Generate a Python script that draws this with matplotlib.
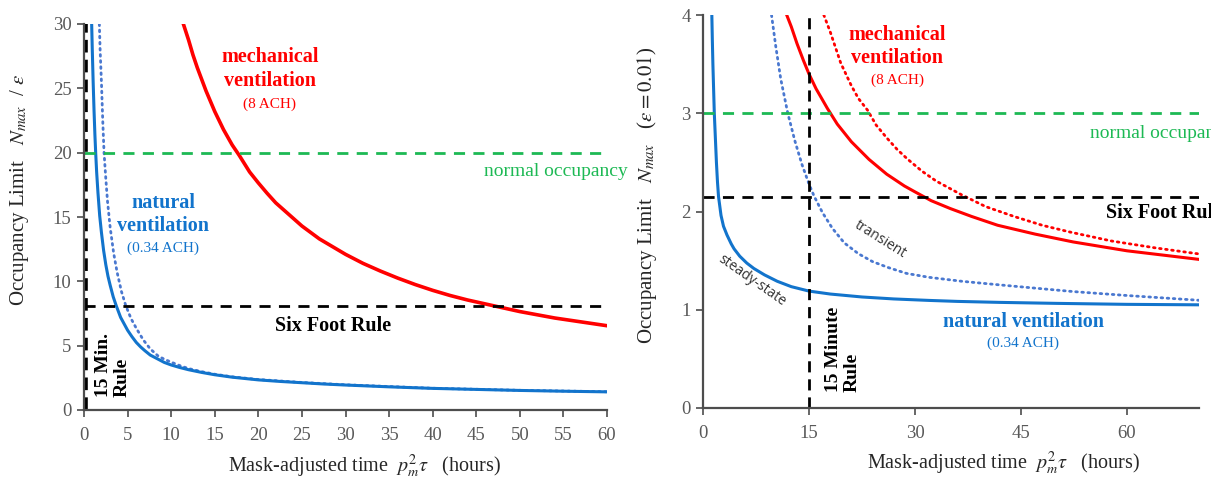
import matplotlib
matplotlib.use('Agg')
import matplotlib.pyplot as plt

plt.rcParams['font.family'] = ['Liberation Serif', 'DejaVu Serif']
plt.rcParams['mathtext.fontset'] = 'stix'

# ---- left panel: N_max / eps vs mask-adjusted time (hours) ----
nat_ss_x = [0.88, 0.95, 1.05, 1.15, 1.25, 1.34, 1.45, 1.6, 1.8, 2.0, 2.25, 2.5, 2.75, 3.0, 3.35, 3.7, 4.2,
            4.6, 5.0, 5.5, 6.0, 6.5, 7.0, 7.6, 8.5, 9.2, 10, 11, 12, 13.5, 15, 17, 20, 22.5, 25, 27.5, 30,
            35, 40, 45, 50, 55, 60]
nat_ss_y = [30, 28, 25.5, 23.3, 21.4, 20, 18.5, 16.9, 15.1, 13.8, 12.4, 11.3, 10.4, 9.7, 8.8, 8.1, 7.2,
            6.7, 6.2, 5.7, 5.25, 4.9, 4.6, 4.27, 3.95, 3.7, 3.5, 3.3, 3.13, 2.92, 2.74, 2.55, 2.34, 2.22,
            2.12, 2.02, 1.94, 1.8, 1.68, 1.6, 1.52, 1.46, 1.41]
nat_tr_x = [1.76, 1.85, 2.0, 2.15, 2.3, 2.5, 2.7, 3.0, 3.4, 3.8, 4.3, 4.8, 5.4, 6.0, 6.8, 7.6, 8.5, 9.2,
            10, 11, 12, 13.5, 15, 17, 20, 25, 30, 40, 50, 60]
nat_tr_y = [30, 28, 25.5, 22.5, 20, 18, 16.2, 14.2, 12.2, 10.7, 9.2, 8.1, 7.1, 6.35, 5.45, 4.75, 4.2,
            3.95, 3.72, 3.45, 3.22, 2.98, 2.78, 2.58, 2.37, 2.14, 1.96, 1.69, 1.53, 1.42]
mech_x = [11.4, 12, 12.5, 13, 13.5, 14, 14.5, 15, 15.5, 16, 16.5, 17, 17.8, 19, 20, 21, 22, 23, 24, 25, 26,
          27, 28, 29, 30, 32, 34, 36, 38, 40, 42, 44, 46, 48, 50, 52, 54, 56, 58, 60]
mech_y = [30, 28.75, 27.6, 26.6, 25.7, 24.8, 24.0, 23.2, 22.5, 21.8, 21.2, 20.6, 19.8, 18.5, 17.65, 16.85,
          16.1, 15.5, 14.9, 14.3, 13.8, 13.3, 12.9, 12.5, 12.1, 11.4, 10.8, 10.25, 9.75, 9.3, 8.9, 8.55,
          8.25, 7.95, 7.65, 7.4, 7.15, 6.95, 6.75, 6.55]
normal_occ_left = 20
six_foot_left = 8.1
fifteen_min_hours = 0.25
left_xticks = list(range(0, 65, 5))
left_yticks = [0, 5, 10, 15, 20, 25, 30]

# ---- right panel: N_max (eps = 0.01) ----
r_ss_x = [1.25, 1.32, 1.4, 1.5, 1.6, 1.75, 1.9, 2.05, 2.2, 2.55, 2.9, 3.4, 4.0, 4.4, 5.2, 6.2, 7.2, 8.7,
          10.5, 12.5, 15, 18, 22.5, 27, 32, 36, 42, 50, 60, 70.5]
r_ss_y = [4.0, 3.75, 3.5, 3.25, 3.0, 2.75, 2.5, 2.3, 2.15, 1.96, 1.85, 1.76, 1.67, 1.62, 1.545, 1.475, 1.42,
          1.355, 1.29, 1.235, 1.19, 1.16, 1.13, 1.11, 1.095, 1.085, 1.075, 1.065, 1.055, 1.05]
r_tr_x = [9.7, 10.3, 11.0, 12.0, 13.0, 14.0, 15.0, 15.7, 16.9, 18.3, 20.0, 22, 24, 26.2, 28.8, 32, 36.6,
          41.7, 47, 52.4, 60, 70.5]
r_tr_y = [4.0, 3.68, 3.35, 3.0, 2.72, 2.48, 2.28, 2.16, 1.99, 1.83, 1.68, 1.57, 1.49, 1.43, 1.37, 1.33,
          1.29, 1.255, 1.22, 1.185, 1.145, 1.095]
r_mech_x = [11.85, 12.5, 13.3, 14.2, 15, 16, 17.6, 19, 21, 23.5, 26, 28.5, 30, 32.3, 35, 38, 41.7, 47,
            52.4, 60, 70.5]
r_mech_y = [4.0, 3.88, 3.71, 3.54, 3.4, 3.25, 3.05, 2.89, 2.71, 2.53, 2.38, 2.26, 2.2, 2.11, 2.03, 1.95,
            1.86, 1.77, 1.69, 1.6, 1.51]
r_mech_tr_x = [17.1, 18, 19.5, 21, 22, 23.3, 24.5, 26, 27.5, 29, 31, 33, 36.6, 40, 44, 48, 52, 57.8, 64,
               70.5]
r_mech_tr_y = [4.0, 3.83, 3.51, 3.28, 3.15, 3.03, 2.88, 2.75, 2.63, 2.53, 2.41, 2.31, 2.17, 2.05, 1.95,
               1.86, 1.79, 1.70, 1.63, 1.565]
normal_occ_right = 3.0
six_foot_right = 2.15
fifteen_min_right = 15
right_xticks = [0, 15, 30, 45, 60]
right_yticks = [0, 1, 2, 3, 4]

RED = '#FF0000'
BLUE = '#1274CC'
BLUE_DOT = '#4A78D0'
GREEN = '#1DB954'
TICK_GRAY = '#595959'
AX_GRAY = '#4d4d4d'
LABEL_COLOR = '#262626'

fig = plt.figure(figsize=(12.11, 4.78), dpi=100)
ax1 = fig.add_axes([84 / 1211, 68 / 478, 523 / 1211, 386 / 478])
ax2 = fig.add_axes([703 / 1211, 70 / 478, 496 / 1211, 393 / 478])


def style_axes(ax):
    for side in ['top', 'right']:
        ax.spines[side].set_visible(False)
    for side in ['left', 'bottom']:
        ax.spines[side].set_color(AX_GRAY)
        ax.spines[side].set_linewidth(1.6)
    ax.tick_params(axis='both', colors=AX_GRAY, labelcolor=TICK_GRAY,
                   labelsize=13.5, length=5, width=1.2, direction='out')
    ax.tick_params(axis='x', pad=7)
    ax.tick_params(axis='y', pad=4)


dotted = (0, (0.6, 1.6))
dashed = (0, (4, 3))

# left panel
ax1.plot(nat_tr_x, nat_tr_y, color=BLUE_DOT, lw=2, ls=dotted, dash_capstyle='round')
ax1.plot(nat_ss_x, nat_ss_y, color=BLUE, lw=2.2)
ax1.plot(mech_x, mech_y, color=RED, lw=2.6)
ax1.axhline(normal_occ_left, color=GREEN, lw=2, ls=dashed)
ax1.axhline(six_foot_left, color='black', lw=2, ls=dashed)
ax1.axvline(fifteen_min_hours, color='black', lw=2.6, ls=(0, (3.5, 2)))
ax1.set_xlim(0, 60)
ax1.set_ylim(0, 30)
ax1.set_xticks(left_xticks)
ax1.set_yticks(left_yticks)
style_axes(ax1)

ax1.text(21.3, 26.5, 'mechanical\nventilation', color=RED, fontsize=14.5, fontweight='bold',
         ha='center', va='center', linespacing=1.25)
ax1.text(21.3, 23.8, '(8 ACH)', color=RED, fontsize=11, ha='center', va='center')
ax1.text(9.1, 15.2, 'natural\nventilation', color=BLUE, fontsize=14.5, fontweight='bold',
         ha='center', va='center', linespacing=1.25)
ax1.text(9.1, 12.6, '(0.34 ACH)', color=BLUE, fontsize=11, ha='center', va='center')
ax1.text(54.1, 18.5, 'normal occupancy', color=GREEN, fontsize=14, ha='center', va='center')
ax1.text(28.6, 6.5, 'Six Foot Rule', color='black', fontsize=14.5, fontweight='bold',
         ha='center', va='center')
ax1.text(3.3, 1.0, '15 Min.\nRule', color='black', fontsize=14, fontweight='bold',
         rotation=90, ha='center', va='bottom', multialignment='left', linespacing=1.15)

# right panel
ax2.plot(r_tr_x, r_tr_y, color=BLUE_DOT, lw=2, ls=dotted, dash_capstyle='round')
ax2.plot(r_mech_tr_x, r_mech_tr_y, color=RED, lw=2, ls=dotted, dash_capstyle='round')
ax2.plot(r_ss_x, r_ss_y, color=BLUE, lw=2.2)
ax2.plot(r_mech_x, r_mech_y, color=RED, lw=2.2)
ax2.axhline(normal_occ_right, color=GREEN, lw=2, ls=dashed)
ax2.axhline(six_foot_right, color='black', lw=2, ls=dashed)
ax2.axvline(fifteen_min_right, color='black', lw=2, ls=(0, (4, 2.5)))
ax2.set_xlim(0, 70.2)
ax2.set_ylim(0, 4)
ax2.set_xticks(right_xticks)
ax2.set_yticks(right_yticks)
style_axes(ax2)

ax2.text(27.5, 3.68, 'mechanical\nventilation', color=RED, fontsize=14.5, fontweight='bold',
         ha='center', va='center', linespacing=1.25)
ax2.text(27.5, 3.34, '(8 ACH)', color=RED, fontsize=11, ha='center', va='center')
# these two run past the figure edge in the reference as well
ax2.text(54.8, 2.79, 'normal occupancy', color=GREEN, fontsize=14, ha='left', va='center')
ax2.text(57.0, 1.98, 'Six Foot Rule', color='black', fontsize=14.5, fontweight='bold',
         ha='left', va='center')
ax2.text(45.3, 0.88, 'natural ventilation', color=BLUE, fontsize=14.5, fontweight='bold',
         ha='center', va='center')
ax2.text(45.3, 0.66, '(0.34 ACH)', color=BLUE, fontsize=11, ha='center', va='center')
ax2.text(25.1, 1.71, 'transient', color='#333333', fontsize=10, family='Open Sans',
         rotation=-32, ha='center', va='center')
ax2.text(6.9, 1.3, 'steady-state', color='#333333', fontsize=10, family='Open Sans',
         rotation=-35, ha='center', va='center')
ax2.text(19.8, 0.16, '15 Minute\nRule', color='black', fontsize=14, fontweight='bold',
         rotation=90, ha='center', va='bottom', multialignment='left', linespacing=1.15)

# axis labels placed as figure text to follow the reference positions
xlabel = r'Mask-adjusted time  $p_m^2\tau$   (hours)'
fig.text(365 / 1211, 12 / 478, xlabel, ha='center', va='center', fontsize=14.5, color=LABEL_COLOR)
fig.text(1004 / 1211, 15 / 478, xlabel, ha='center', va='center', fontsize=14.5, color=LABEL_COLOR)
fig.text(20 / 1211, 1 - 190 / 478, r'Occupancy Limit   $N_{max}$  / $\epsilon$',
         ha='center', va='center', rotation=90, fontsize=15, color=LABEL_COLOR)
fig.text(647 / 1211, 1 - 195 / 478, r'Occupancy Limit   $N_{max}$   ($\epsilon = 0.01$)',
         ha='center', va='center', rotation=90, fontsize=15, color=LABEL_COLOR)

fig.savefig('out.png', dpi=100)
